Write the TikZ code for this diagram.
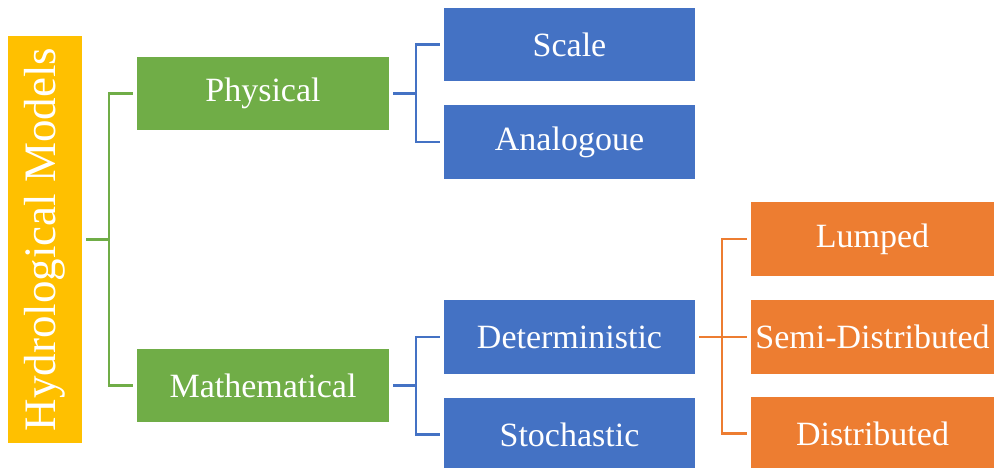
\documentclass[tikz,border=0pt]{standalone}
\usepackage{fontspec}
\setmainfont{Liberation Serif}
\definecolor{cyellow}{HTML}{FFC000}
\definecolor{cgreen}{HTML}{70AD47}
\definecolor{cblue}{HTML}{4472C4}
\definecolor{corange}{HTML}{ED7D31}
\tikzset{
  boxbase/.style={rectangle, inner sep=0pt, text=white, font=\fontsize{34}{40}\selectfont},
  gbox/.style={boxbase, fill=cgreen, minimum width=252pt, minimum height=73pt},
  bbox/.style={boxbase, fill=cblue, minimum width=251pt, minimum height=73pt},
  obox/.style={boxbase, fill=corange, minimum width=243pt, minimum height=73pt},
  conn/.style={line width=2.3pt},
}
\begin{document}
\begin{tikzpicture}[x=1pt,y=-1pt]
\useasboundingbox (0,0) rectangle (994,468);
\node[rectangle, inner sep=0pt, fill=cyellow, minimum width=74pt, minimum height=407pt] (hm) at (45,239.5) {};
\node[rotate=90, text=white, font=\fontsize{45}{50}\selectfont, inner sep=0pt] (hmt) at (45,239.5) {Hydrological Models};
\node[gbox] (phys) at (263,93.5) {Physical};
\node[gbox] (math) at (263,385.5) {Mathematical};
\node[bbox] (scale) at (569.5,44.5) {Scale};
\node[bbox, minimum height=74pt] (analog) at (569.5,142) {Analogoue};
\node[bbox, minimum height=74pt] (determ) at (569.5,337) {Deterministic};
\node[bbox] (stoch) at (569.5,434.5) {Stochastic};
\node[obox, minimum height=74pt] (lumped) at (872.5,239) {Lumped};
\node[obox, minimum height=74pt] (semi) at (872.5,337) {Semi-Distributed};
\node[obox] (distr) at (872.5,433.5) {Distributed};
\coordinate (gj) at (109,239.5);
\coordinate (bj1) at (416,93.5);
\coordinate (bj2) at (416,385.5);
\coordinate (oj) at (722,337);
\draw[conn, cgreen] ([xshift=4pt]hm.east) -- (gj);
\draw[conn, cgreen] ([xshift=-4pt]phys.west) -| (gj) |- ([xshift=-4pt]math.west);
\draw[conn, cblue] ([xshift=4pt]phys.east) -- (bj1);
\draw[conn, cblue] ([xshift=-4pt]scale.west) -| (bj1) |- ([xshift=-4pt]analog.west);
\draw[conn, cblue] ([xshift=4pt]math.east) -- (bj2);
\draw[conn, cblue] ([xshift=-4pt]determ.west) -| (bj2) |- ([xshift=-4pt]stoch.west);
\draw[conn, corange] ([xshift=4pt]determ.east) -- ([xshift=-4pt]semi.west);
\draw[conn, corange] ([xshift=-4pt]lumped.west) -| (oj) |- ([xshift=-4pt]distr.west);
\end{tikzpicture}
\end{document}
